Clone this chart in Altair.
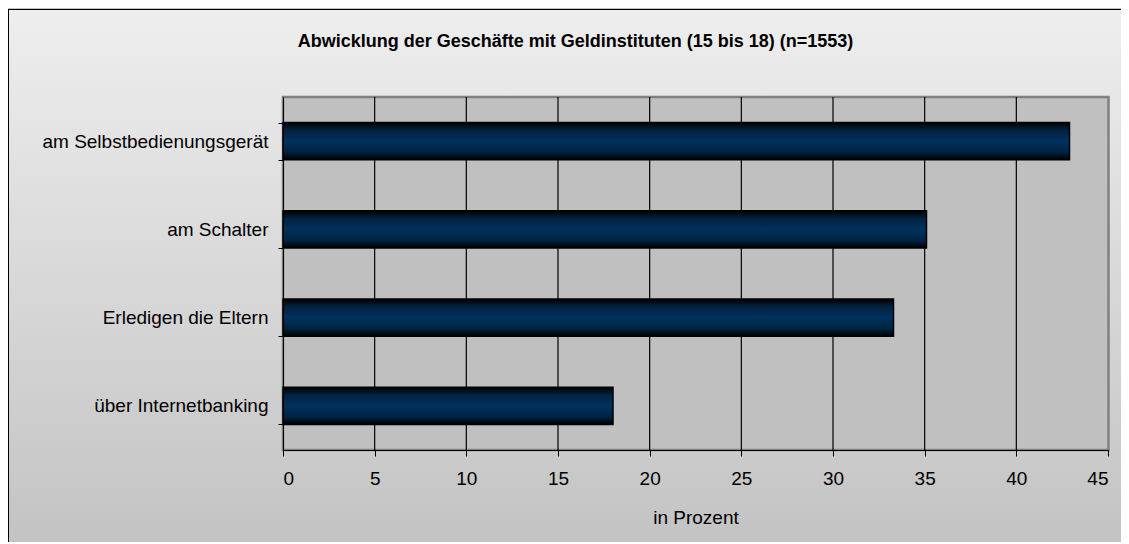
import altair as alt
import pandas as pd

# ---- data ----
categories = ["am Selbstbedienungsgerät", "am Schalter", "Erledigen die Eltern", "über Internetbanking"]
values = [42.9, 35.1, 33.3, 18.0]
x_ticks = [0, 5, 10, 15, 20, 25, 30, 35, 40, 45]
grid_values = [5, 10, 15, 20, 25, 30, 35, 40]
title_text = "Abwicklung der Geschäfte mit Geldinstituten (15 bis 18) (n=1553)"
x_title = "in Prozent"

# ---- layout ----
W, H = 825, 353
PAD_L, PAD_T, PAD_R, PAD_B = 275, 89, 13, 92
FONT = "Liberation Sans"

df = pd.DataFrame({"cat": categories, "val": values})
grid_df = pd.DataFrame({"val": grid_values})

xscale = alt.Scale(domain=[0, 45], nice=False, zero=True)
yscale = alt.Scale(domain=categories, paddingInner=0.58, paddingOuter=0.29)

x_axis = alt.Axis(
    values=x_ticks, grid=False, title=x_title, format="d",
    titleFontSize=19, titleFontWeight="normal", titleFont=FONT, titleColor="black",
    titlePadding=20,
    labelFontSize=19, labelFont=FONT, labelColor="black", labelPadding=13,
    tickSize=6, tickColor="black", domainColor="black", zindex=1,
)
y_axis = alt.Axis(
    title=None, tickBand="extent", tickSize=5, tickColor="black",
    domainColor="black", labelFontSize=19, labelFont=FONT, labelColor="black",
    labelPadding=10, labelLimit=400, zindex=1,
)

frame_grad = alt.LinearGradient(
    gradient="linear", x1=0, x2=0, y1=0, y2=1,
    stops=[alt.GradientStop(color="#eeeeee", offset=0),
           alt.GradientStop(color="#c0c0c0", offset=1)],
)
bar_grad = alt.LinearGradient(
    gradient="linear", x1=0, x2=0, y1=0, y2=1,
    stops=[alt.GradientStop(color="#000000", offset=0),
           alt.GradientStop(color="#00223f", offset=0.2),
           alt.GradientStop(color="#00315f", offset=0.5),
           alt.GradientStop(color="#00223f", offset=0.8),
           alt.GradientStop(color="#000000", offset=1)],
)

frame = alt.Chart(alt.Data(values=[{}])).mark_rect(
    fill=frame_grad, strokeWidth=0
).encode(
    x=alt.value(-PAD_L), x2=alt.value(W + PAD_R + 40),
    y=alt.value(-PAD_T + 1), y2=alt.value(H + PAD_B + 40),
)
frame_left = alt.Chart(alt.Data(values=[{}])).mark_rule(color="black", strokeWidth=1).encode(
    x=alt.value(-PAD_L + 0.5), y=alt.value(-PAD_T + 1), y2=alt.value(H + PAD_B + 40),
)
frame_top = alt.Chart(alt.Data(values=[{}])).mark_rule(color="black", strokeWidth=1).encode(
    x=alt.value(-PAD_L), x2=alt.value(W + PAD_R + 40), y=alt.value(-PAD_T + 1.5),
)

plot_bg = alt.Chart(alt.Data(values=[{}])).mark_rect(
    fill="#c0c0c0", stroke="#808080", strokeWidth=2.5
).encode(
    x=alt.value(0), x2=alt.value(W + 0.5), y=alt.value(0), y2=alt.value(H),
)

grid = alt.Chart(grid_df).mark_rule(color="#000000", strokeWidth=1.2).encode(
    x=alt.X("val:Q", scale=xscale, axis=x_axis),
)

bars = alt.Chart(df).mark_bar(
    color=bar_grad, stroke="black", strokeWidth=1.5
).encode(
    x=alt.X("val:Q", scale=xscale, axis=x_axis),
    y=alt.Y("cat:N", scale=yscale, sort=None, axis=y_axis),
)

chart = alt.layer(frame, frame_left, frame_top, plot_bg, grid, bars).properties(
    width=W, height=H,
    autosize=alt.AutoSizeParams(type="none"),
    padding={"left": PAD_L, "top": PAD_T, "right": PAD_R, "bottom": PAD_B},
    title=alt.TitleParams(
        text=title_text, font=FONT, fontSize=18, fontWeight="bold", color="black",
        anchor="middle", frame="group", dx=-120, dy=56, offset=0, baseline="alphabetic",
    ),
).configure(background="#c4c4c4").configure_view(strokeWidth=0)

chart.save("out.html", embed_options={"renderer": "svg", "actions": False})
